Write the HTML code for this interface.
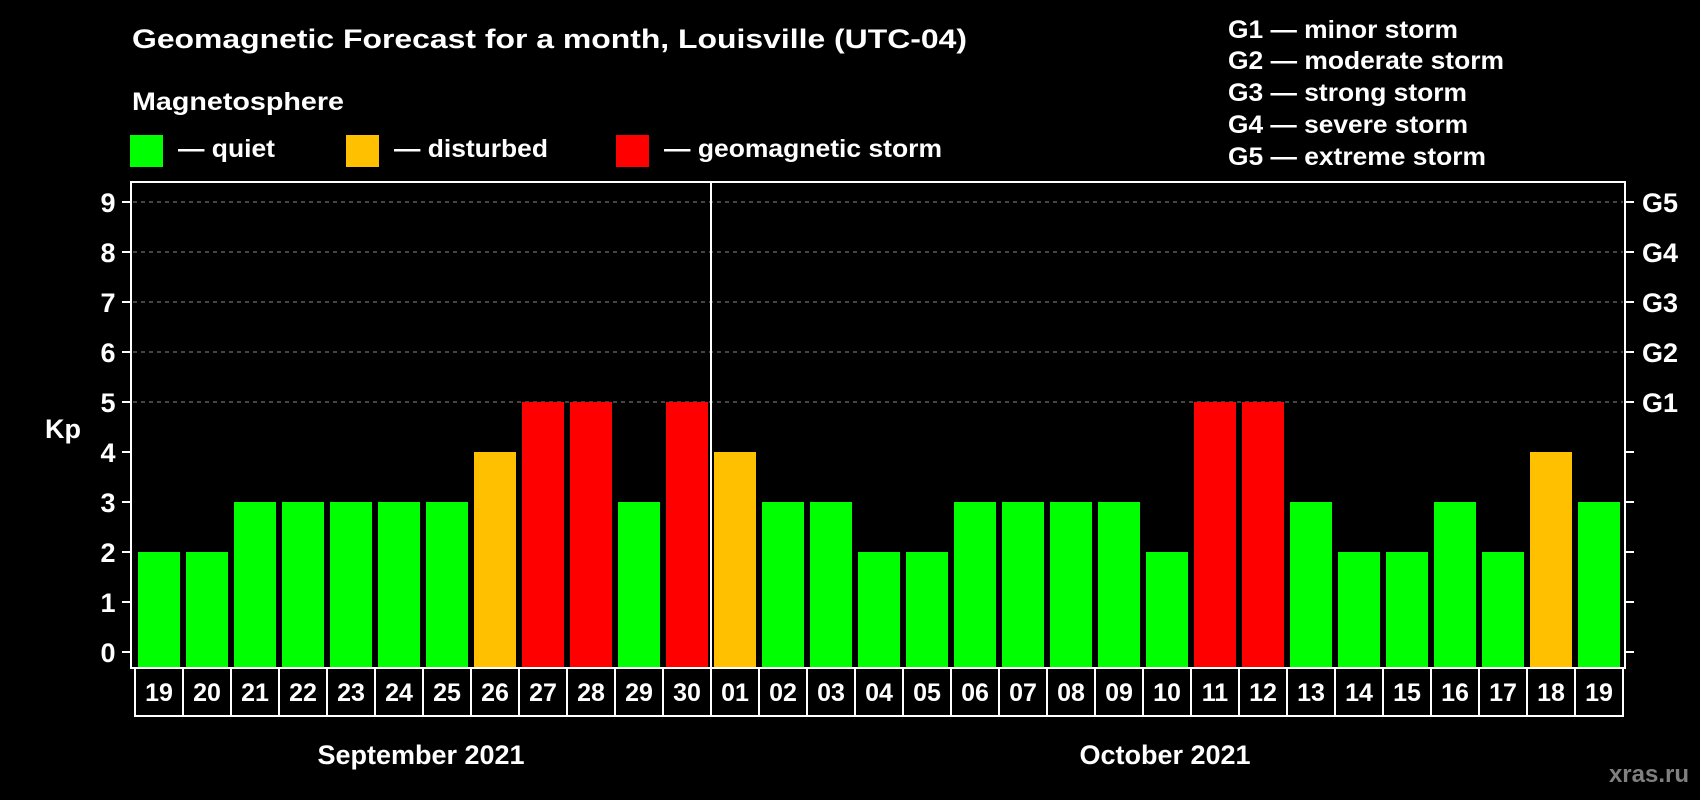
<!DOCTYPE html>
<html><head><meta charset="utf-8"><style>
html,body{margin:0;padding:0;background:#000;}
svg{display:block;font-family:"Liberation Sans",sans-serif;font-weight:bold;}
</style></head><body>
<svg id="chart" width="1700" height="800" viewBox="0 0 1700 800">
<text x="132" y="48" fill="#fff" font-size="27" textLength="835" lengthAdjust="spacingAndGlyphs">Geomagnetic Forecast for a month, Louisville (UTC-04)</text>
<text x="132" y="110" fill="#fff" font-size="25" textLength="212" lengthAdjust="spacingAndGlyphs">Magnetosphere</text>
<g><rect x="130" y="135" width="33" height="32" fill="#00ff00"/><text x="178" y="157" fill="#fff" font-size="25" textLength="97" lengthAdjust="spacingAndGlyphs">— quiet</text></g>
<g><rect x="346" y="135" width="33" height="32" fill="#ffc000"/><text x="394" y="157" fill="#fff" font-size="25" textLength="154" lengthAdjust="spacingAndGlyphs">— disturbed</text></g>
<g><rect x="616" y="135" width="33" height="32" fill="#ff0000"/><text x="664" y="157" fill="#fff" font-size="25" textLength="278" lengthAdjust="spacingAndGlyphs">— geomagnetic storm</text></g>
<g fill="#fff" font-size="25">
<text x="1228" y="38" textLength="230" lengthAdjust="spacingAndGlyphs">G1 — minor storm</text>
<text x="1228" y="69" textLength="276" lengthAdjust="spacingAndGlyphs">G2 — moderate storm</text>
<text x="1228" y="101" textLength="239" lengthAdjust="spacingAndGlyphs">G3 — strong storm</text>
<text x="1228" y="133" textLength="240" lengthAdjust="spacingAndGlyphs">G4 — severe storm</text>
<text x="1228" y="165" textLength="258" lengthAdjust="spacingAndGlyphs">G5 — extreme storm</text>
</g>
<text x="63" y="438" fill="#fff" font-size="27" text-anchor="middle">Kp</text>
<g id="grid"></g><g id="bars"></g><g id="axes"></g><g id="dates"></g>
<text x="421" y="764" fill="#fff" font-size="27" text-anchor="middle">September 2021</text>
<text x="1165" y="764" fill="#fff" font-size="27" text-anchor="middle">October 2021</text>
<text x="1689" y="782" fill="#808080" font-size="24" text-anchor="end">xras.ru</text>
</svg>
<script>
const days = ["19","20","21","22","23","24","25","26","27","28","29","30","01","02","03","04","05","06","07","08","09","10","11","12","13","14","15","16","17","18","19"];
const kpValues = [2,2,3,3,3,3,3,4,5,5,3,5,4,3,3,2,2,3,3,3,3,2,5,5,3,2,2,3,2,4,3];
const yTicks = [0,1,2,3,4,5,6,7,8,9];
const gLabels = ["","","","","","G1","G2","G3","G4","G5"];
const monthSplitIndex = 12;

const NS="http://www.w3.org/2000/svg";
const L=131,R=1625,T=182,B=668;
const y=v=>652-v*50;
const step=48, x0=138, bw=42;
const xb=i=>x0+i*step;
function mk(tag,attrs,parent){const e=document.createElementNS(NS,tag);for(const k in attrs)e.setAttribute(k,attrs[k]);parent.appendChild(e);return e;}
const grid=document.getElementById('grid'),bars=document.getElementById('bars'),axes=document.getElementById('axes'),dates=document.getElementById('dates');
yTicks.forEach(v=>{
  if(v>=5){const g=mk('line',{x1:L+2,x2:R-2,y1:y(v),y2:y(v),stroke:'#888','stroke-width':1,'stroke-dasharray':'4,4'},grid);
    
    }
  const t1=mk('line',{x1:L-9,x2:L,y1:y(v),y2:y(v),stroke:'#fff','stroke-width':2},axes);
  
  
  const t2=mk('line',{x1:R,x2:R+9,y1:y(v),y2:y(v),stroke:'#fff','stroke-width':2},axes);
  
  
  const lb=mk('text',{x:108,y:y(v)+10,fill:'#fff','font-size':27,'text-anchor':'middle'},axes);
  lb.textContent=v;
  
  
  if(gLabels[v]){const gl=mk('text',{x:1642,y:y(v)+10,fill:'#fff','font-size':27},axes);
    gl.textContent=gLabels[v];
    
    }
});
kpValues.forEach((v,i)=>{
  const c=v>=5?'#ff0000':(v>=4?'#ffc000':'#00ff00');
  const r=mk('rect',{x:xb(i),y:y(v),width:bw,height:B-y(v),fill:c},bars);
  
  
});
const fr=mk('rect',{x:L,y:T,width:R-L,height:B-T,fill:'none',stroke:'#fff','stroke-width':2},axes);


const sx=(xb(monthSplitIndex-1)+bw+xb(monthSplitIndex))/2;
const sp=mk('line',{x1:sx,x2:sx,y1:T,y2:B,stroke:'#fff','stroke-width':2},axes);


days.forEach((d,i)=>{
  const bx=135+i*step;
  const r=mk('rect',{x:bx,y:B,width:step,height:48,fill:'none',stroke:'#fff','stroke-width':2},dates);
  
  
  const t=mk('text',{x:bx+step/2,y:701,fill:'#fff','font-size':25,'text-anchor':'middle'},dates);
  t.textContent=d;
  
  
});
</script>
</body></html>
